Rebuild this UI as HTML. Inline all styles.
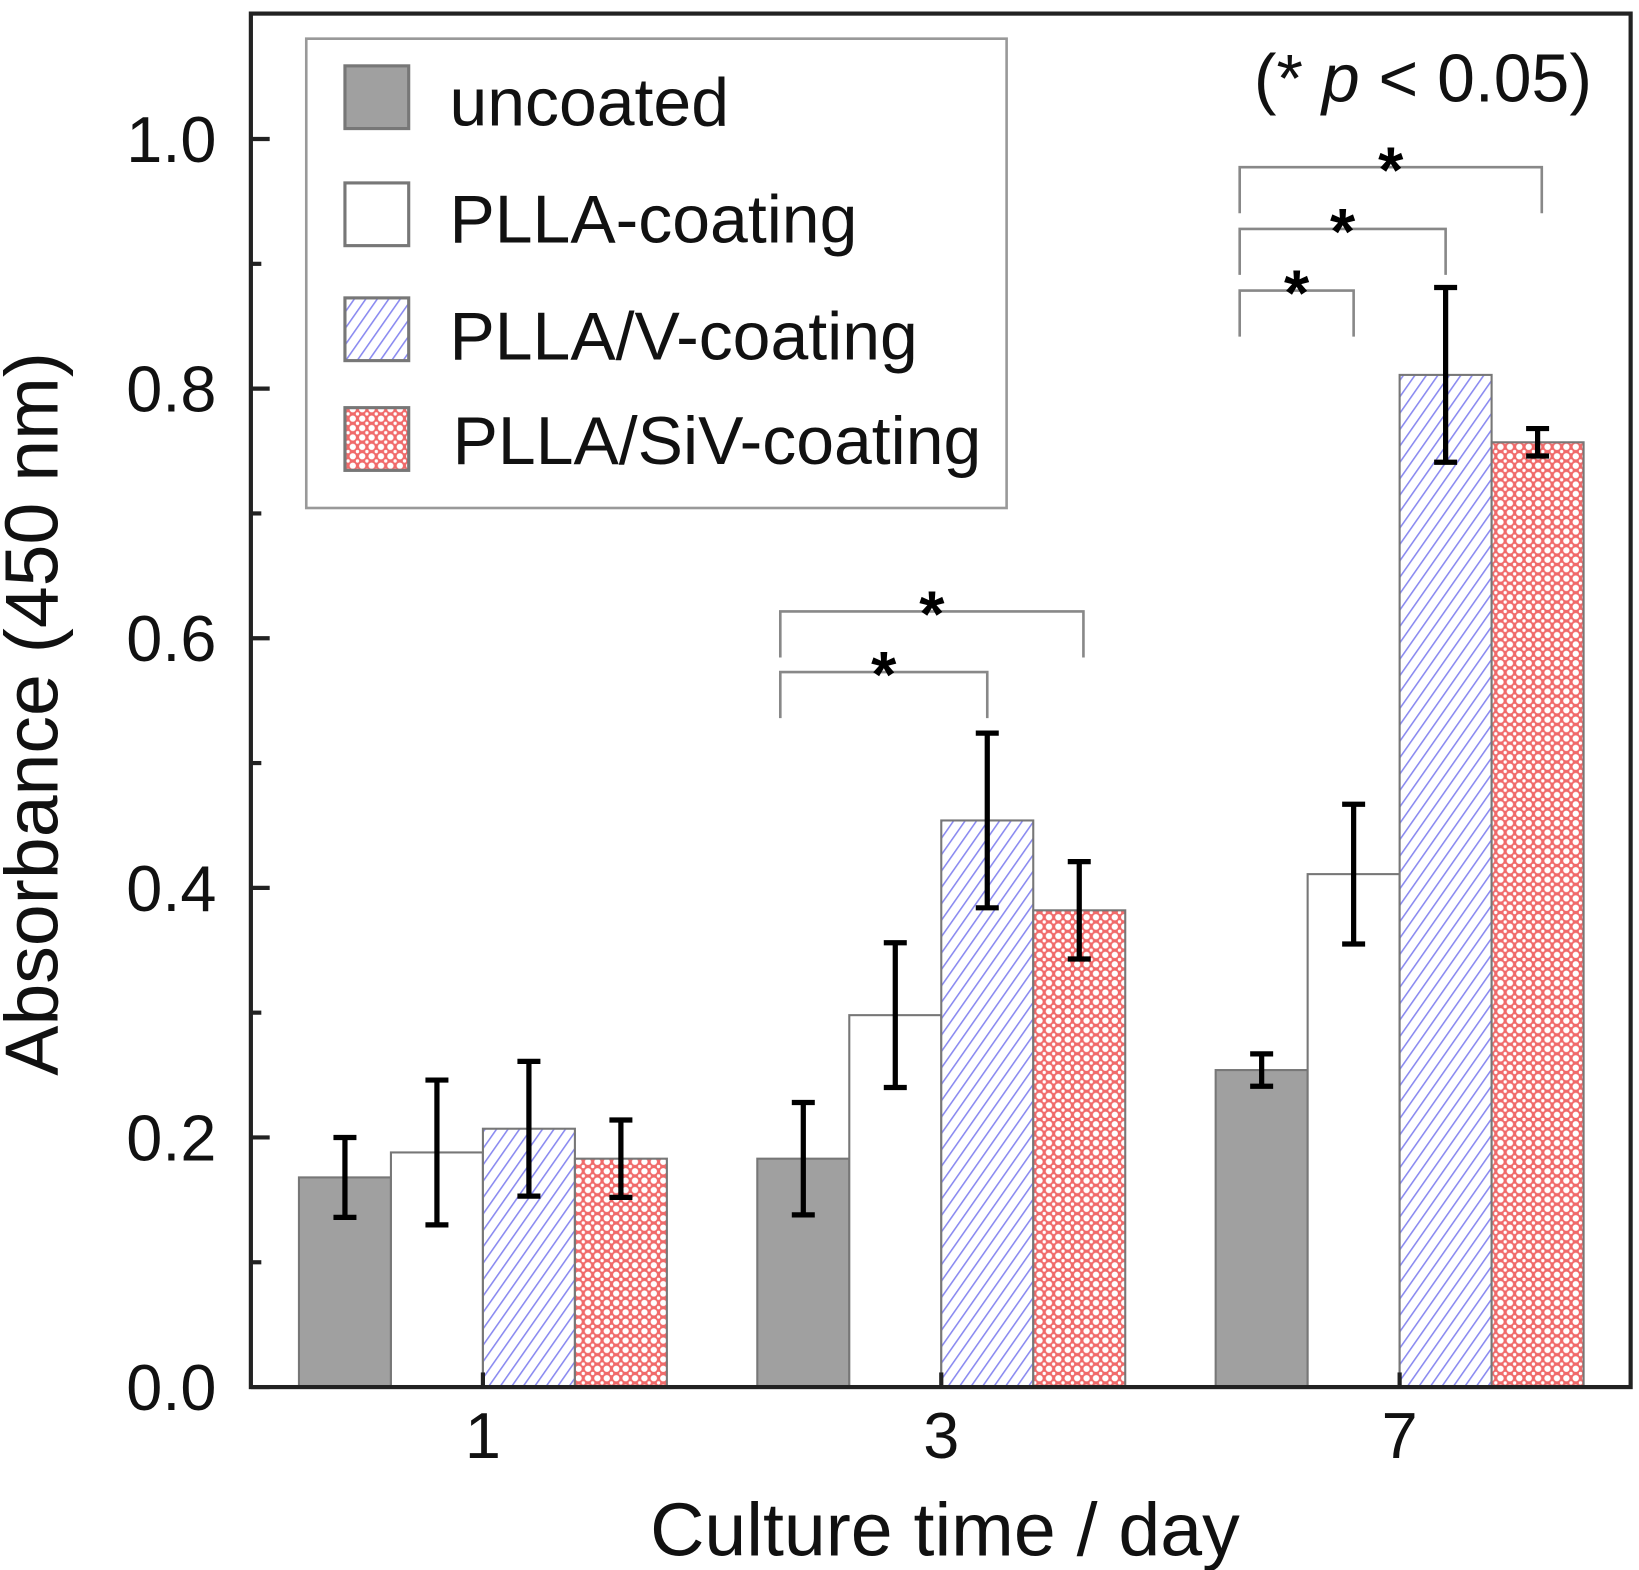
<!DOCTYPE html>
<html><head><meta charset="utf-8"><style>
html,body{margin:0;padding:0;background:#fff;}
svg{display:block;font-family:"Liberation Sans",Arial,sans-serif;}
</style></head><body>
<svg id="chart" width="1639" height="1570" viewBox="0 0 1568 1502" xmlns="http://www.w3.org/2000/svg">
<defs>
<pattern id="hatch" patternUnits="userSpaceOnUse" width="9" height="9" patternTransform="rotate(35)">
<rect width="9" height="9" fill="#fff"/>
<line x1="0" y1="0" x2="0" y2="9" stroke="#8a8af0" stroke-width="3"/>
</pattern>
<pattern id="check" patternUnits="userSpaceOnUse" width="9" height="9">
<rect width="9" height="9" fill="#f06a6a"/>
<circle cx="4.5" cy="4.5" r="3" fill="#fff"/>
<circle cx="0" cy="0" r="1.6" fill="#fff"/><circle cx="9" cy="0" r="1.6" fill="#fff"/>
<circle cx="0" cy="9" r="1.6" fill="#fff"/><circle cx="9" cy="9" r="1.6" fill="#fff"/>
</pattern>
</defs>
<g id="plot"></g>
</svg>
<script>
const categories = ["1","3","7"];
const seriesNames = ["uncoated","PLLA-coating","PLLA/V-coating","PLLA/SiV-coating"];
const uncoated = [0.168,0.183,0.254];
const uncoatedErr = [0.032,0.045,0.013];
const plla = [0.188,0.298,0.411];
const pllaErr = [0.058,0.058,0.056];
const pllaV = [0.207,0.454,0.811];
const pllaVErr = [0.054,0.070,0.070];
const pllaSiV = [0.183,0.382,0.757];
const pllaSiVErr = [0.031,0.039,0.011];
const yTicks = [0.0,0.2,0.4,0.6,0.8,1.0];
const yTickLabels = ["0.0","0.2","0.4","0.6","0.8","1.0"];
const yMinorTicks = [0.1,0.3,0.5,0.7,0.9];
// significance brackets: [category index, from series, to series, level]
const brackets = [[1,0,2,0],[1,0,3,1],[2,0,1,0],[2,0,2,1],[2,0,3,2]];

const NS="http://www.w3.org/2000/svg";
const g=document.getElementById('plot');
const L=240,R=1560,T=13,B=1327;
const y=v=>B-v*1194;
const groupCenter=i=>462+i*438.5;
const barW=88;
const barX=(ci,si)=>groupCenter(ci)+(si-2)*barW;
function mk(tag,attrs,parent){const e=document.createElementNS(NS,tag);for(const k in attrs)e.setAttribute(k,attrs[k]);(parent||g).appendChild(e);return e;}
const values=[uncoated,plla,pllaV,pllaSiV];
const errs=[uncoatedErr,pllaErr,pllaVErr,pllaSiVErr];
const fills=["#a0a0a0","#fff","url(#hatch)","url(#check)"];
const keys=["uncoated","plla","plla-v","plla-siv"];
for(let si=0;si<4;si++){for(let ci=0;ci<categories.length;ci++){
 const v=values[si][ci];
 const r=mk('rect',{x:barX(ci,si),y:y(v),width:barW,height:B-y(v),fill:fills[si],stroke:"#777","stroke-width":2});
 
 
}}
for(let si=0;si<4;si++){for(let ci=0;ci<categories.length;ci++){
 const v=values[si][ci],e=errs[si][ci],cx=barX(ci,si)+barW/2;
 const eg=mk('g',{stroke:"#000","stroke-width":5});
 
 
 mk('line',{x1:cx,x2:cx,y1:y(v+e),y2:y(v-e)},eg);
 mk('line',{x1:cx-11,x2:cx+11,y1:y(v+e),y2:y(v+e)},eg);
 mk('line',{x1:cx-11,x2:cx+11,y1:y(v-e),y2:y(v-e)},eg);
}}
brackets.forEach(b=>{
 const [ci,a,c,lvl]=b;
 const x1=barX(ci,a)+barW/2+(ci==1?-22:-21), x2=barX(ci,c)+barW/2+(c==3?4:0);
 const by=(ci==1?643:278)-lvl*(ci==1?58:59);
 const bg=mk('g',{});
 
 
 mk('polyline',{points:`${x1},${by+44} ${x1},${by} ${x2},${by} ${x2},${by+44}`,fill:"none",stroke:"#888","stroke-width":2.5},bg);
 const t=mk('text',{x:(x1+x2)/2,y:by+24,"text-anchor":"middle","font-size":62,"font-weight":"bold"},bg);t.textContent="*";
});
const fr=mk('rect',{x:L,y:T,width:R-L,height:B-T,fill:"none",stroke:"#222","stroke-width":4});


yTicks.forEach((v,i)=>{
 mk('line',{x1:L,x2:L+18,y1:y(v),y2:y(v),stroke:"#222","stroke-width":4});
 const t=mk('text',{x:207,y:y(v)+22,"text-anchor":"end","font-size":62,fill:"#111"});
 t.textContent=yTickLabels[i];
 
 
});
yMinorTicks.forEach(v=>mk('line',{x1:L,x2:L+10,y1:y(v),y2:y(v),stroke:"#222","stroke-width":4}));
categories.forEach((c,i)=>{
 mk('line',{x1:groupCenter(i),x2:groupCenter(i),y1:B,y2:B-14,stroke:"#222","stroke-width":4});
 const t=mk('text',{x:groupCenter(i),y:1395,"text-anchor":"middle","font-size":62,fill:"#111"});
 t.textContent=c;
 
 
});
const xt=mk('text',{x:904,y:1488,"text-anchor":"middle","font-size":72,fill:"#111"});
xt.textContent="Culture time / day";


const yt=mk('text',{x:0,y:0,"text-anchor":"middle","font-size":72,fill:"#111",transform:"translate(55,683) rotate(-90)"});
yt.textContent="Absorbance (450 nm)";


const pt=mk('text',{x:1523,y:97,"text-anchor":"end","font-size":65,fill:"#111"});
pt.innerHTML='(* <tspan font-style="italic">p</tspan> &lt; 0.05)';


const lg=mk('g',{});


mk('rect',{x:293,y:37,width:670,height:449,fill:"#fff",stroke:"#999","stroke-width":2.5},lg);
const ly=[63,175,285,390], lty=[118,230,342,442];
seriesNames.forEach((n,i)=>{
 const eg=mk('g',{},lg);
 
 
 mk('rect',{x:330,y:ly[i],width:61,height:60,fill:fills[i],stroke:"#777","stroke-width":3},eg);
 const t=mk('text',{x:i==3?433:430,y:lty[i]+2,"font-size":65,fill:"#111"},eg);t.textContent=n;
});
</script>
</body></html>
